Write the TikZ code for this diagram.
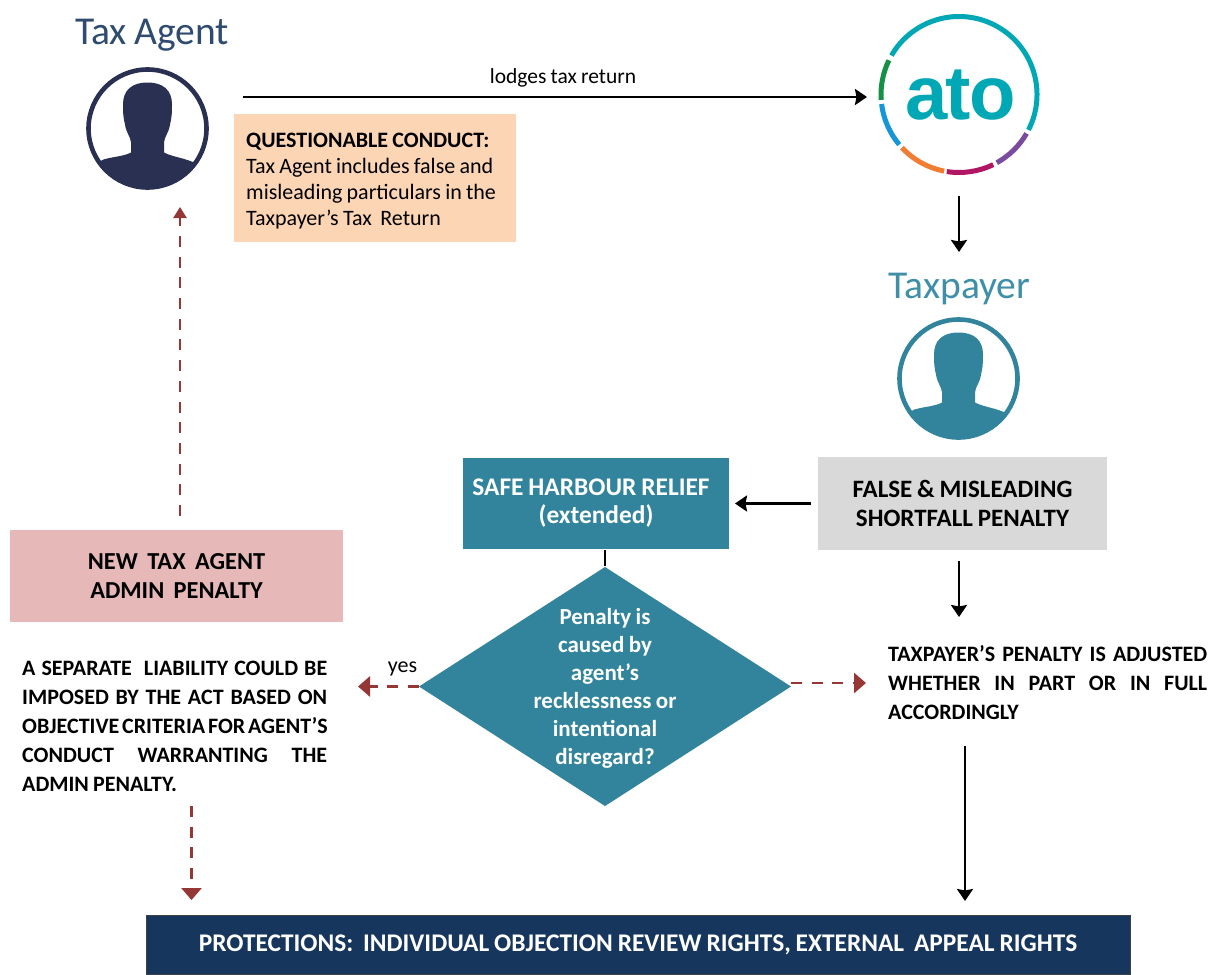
\documentclass[tikz,border=0pt]{standalone}
\usepackage{fontspec}
\setmainfont{Carlito}[WordSpace=0.85]
\newfontfamily\atofont{Liberation Sans}
\usetikzlibrary{arrows.meta,shapes.geometric,positioning}
\definecolor{teal}{HTML}{31849B}
\definecolor{navy}{HTML}{17365D}
\definecolor{agentblue}{HTML}{2A3052}
\definecolor{titleblue}{HTML}{2F4B70}
\definecolor{titleteal}{HTML}{3F8FA8}
\definecolor{peach}{HTML}{FCD5B5}
\definecolor{pinkbox}{HTML}{E6B9B8}
\definecolor{greybox}{HTML}{D9D9D9}
\definecolor{dred}{HTML}{953735}
\definecolor{atoteal}{HTML}{00A7B5}
\definecolor{atopurple}{HTML}{784BA0}
\definecolor{atomagenta}{HTML}{B01664}
\definecolor{atoorange}{HTML}{F07D32}
\definecolor{atoblue}{HTML}{1496D7}
\definecolor{atogreen}{HTML}{149146}
\tikzset{
  x=1pt,y=-1pt,
  arr/.style={draw=black,line width=2.6pt,-{Stealth[length=12pt,width=16pt,inset=1.5pt]}},
  stub/.style={draw=black,line width=2.6pt},
  darr/.style={draw=dred,line width=2.8pt,dash pattern=on 11pt off 9.7pt,-{Stealth[length=12pt,width=20pt,inset=0pt]}},
  darrup/.style={draw=dred,line width=2.4pt,dash pattern=on 11pt off 9.7pt,-{Stealth[length=11pt,width=13pt,inset=0pt]}},
  flat/.style={inner sep=0pt,outer sep=0pt,anchor=north west,align=center},
  title/.style={font=\fontsize{39.5}{42}\selectfont,inner sep=0pt},
  ring/.style={circle,inner sep=0pt,minimum size=118pt,line width=4.6pt,draw=#1},
  txt/.style={inner sep=0pt,anchor=north west,align=left,font=\bfseries\fontsize{22}{29}\selectfont},
  arcseg/.style={line width=5pt,draw=#1},
}
\newcommand{\personicon}[3]{%
  \node[ring=#3] (#1) at (#2) {};
  \begin{scope}[shift={(#2)}]
    \clip (0,0) circle[radius=59];
    \fill[#3] (0,-46) .. controls (16,-46) and (24.5,-38) .. (24.5,-24)
      .. controls (24.5,-14) and (24,-10) .. (22.5,-4)
      .. controls (21.5,4) and (17,8) .. (16.5,14)
      -- (16.5,24) .. controls (24,28) and (34,29) .. (44,33) -- (62,40) -- (62,62) -- (-62,62) -- (-62,40) -- (-44,31)
      .. controls (-34,28) and (-24,28) .. (-16.5,24)
      -- (-16.5,14) .. controls (-17,8) and (-21.5,4) .. (-22.5,-4)
      .. controls (-24,-10) and (-24.5,-14) .. (-24.5,-24)
      .. controls (-24.5,-38) and (-16,-46) .. (0,-46) -- cycle;
  \end{scope}}
\newcommand{\jline}[2]{\makebox[#1][s]{#2}}
\begin{document}
\begin{tikzpicture}
\useasboundingbox (0,0) rectangle (1212,974);
\fill[white] (0,0) rectangle (1212,974);

% titles
\node[title,text=titleblue] (agenttitle) at (152,35) {Tax Agent};
\node[title,text=titleteal] (payertitle) at (959.5,289) {Taxpayer};

% icons
\personicon{agent}{147.5,128.5}{agentblue}
\personicon{payer}{958.5,378.5}{teal}

% ATO logo
\node[inner sep=0pt,anchor=base,text=atoteal] (atotext) at (960.5,119)
  {\atofont\bfseries\fontsize{76}{76}\selectfont a\kern-2pt t\kern-2pt o};
\begin{scope}[shift={(959,94.5)}]
\draw[arcseg=atoteal] (-150:78) arc[start angle=-150,end angle=27,radius=78];
\draw[arcseg=atopurple] (30:78) arc[start angle=30,end angle=61,radius=78];
\draw[arcseg=atomagenta] (64:78) arc[start angle=64,end angle=99,radius=78];
\draw[arcseg=atoorange] (101:78) arc[start angle=101,end angle=137,radius=78];
\draw[arcseg=atoblue] (140:78) arc[start angle=140,end angle=173,radius=78];
\draw[arcseg=atogreen] (176:78) arc[start angle=176,end angle=206,radius=78];
\end{scope}

% boxes
\node[flat,fill=peach,minimum width=282pt,minimum height=128pt] (conductbox) at (234,114) {};
\node[inner sep=0pt,anchor=north west,align=left,font=\fontsize{22}{25.8}\selectfont] (conduct) at (246,133)
  {\textbf{QUESTIONABLE CONDUCT:}\\Tax Agent includes false and\\misleading particulars in the\\Taxpayer’s Tax\ \ Return};

\node[flat,fill=teal,text=white,minimum width=266pt,minimum height=91pt,font=\bfseries\fontsize{25.4}{28.5}\selectfont] (harbour) at (463,458)
  {SAFE HARBOUR RELIEF\hspace*{10pt}\\(extended)\rule[-5pt]{0pt}{5pt}};
\node[flat,fill=greybox,minimum width=289pt,minimum height=93pt,font=\bfseries\fontsize{25}{29}\selectfont] (grey) at (818,457)
  {FALSE \& MISLEADING\\SHORTFALL PENALTY};
\node[flat,fill=pinkbox,minimum width=333pt,minimum height=92pt,font=\bfseries\fontsize{24.4}{29}\selectfont] (pink) at (10,530)
  {NEW\ \ TAX\ \ AGENT\\ADMIN\ \ PENALTY};

\node[diamond,fill=teal,inner sep=0pt,outer sep=0pt,aspect=1.556,minimum width=372pt,minimum height=239pt] (decide) at (605,686.5) {};
\node[inner sep=0pt,text=white,align=center,font=\bfseries\fontsize{23}{28}\selectfont] (decidetext) at (605,688)
  {Penalty is\\caused by\\agent’s\\recklessness or\\intentional\\disregard?};

\node[flat,fill=navy,draw=black!75,line width=1pt,text=white,minimum width=984pt,minimum height=59pt,font=\bfseries\fontsize{25.4}{28}\selectfont] (protect) at (146,915)
  {PROTECTIONS:\ \ INDIVIDUAL OBJECTION REVIEW RIGHTS, EXTERNAL\ \ APPEAL RIGHTS};

% body text
\node[txt] (separate) at (22,661)
  {\jline{305pt}{A SEPARATE\ \ LIABILITY COULD BE}\\
   \jline{305pt}{IMPOSED BY THE ACT BASED ON}\\
   \jline{305pt}{OBJECTIVE CRITERIA FOR AGENT’S}\\
   \jline{305pt}{CONDUCT WARRANTING THE}\\
   ADMIN PENALTY.};
\node[txt] (adjusted) at (888,645)
  {\jline{319pt}{TAXPAYER’S PENALTY IS ADJUSTED}\\
   \jline{319pt}{WHETHER IN PART OR IN FULL}\\
   ACCORDINGLY};

% labels
\node[inner sep=0pt,font=\fontsize{21.5}{24}\selectfont] (lodges) at (563,78) {lodges tax return};
\node[inner sep=0pt,font=\fontsize{22}{24}\selectfont] (yes) at (402.5,668.5) {yes};

% free ends
\coordinate (a1) at (243,97);
\coordinate (a2) at (867,97);
\coordinate (b1) at (959,196);
\coordinate (b2) at (959,252);
\coordinate (c1) at (180,516);
\coordinate (c2) at (180,207);
\coordinate (d1) at (959,561);
\coordinate (d2) at (959,617);
\coordinate (e1) at (358,686.5);
\coordinate (f1) at (791,683);
\coordinate (f2) at (866,683);
\coordinate (g1) at (965,746);
\coordinate (g2) at (965,901);
\coordinate (h1) at (191.5,806);
\coordinate (h2) at (191.5,900);

% connectors
\draw[arr] (a1) -- (a2);
\draw[arr] (b1) -- (b2);
\draw[darrup] (c1) -- (c2);
\draw[arr,shorten <=7pt,shorten >=6pt] (grey.west) -- (harbour.east);
\draw[arr] (d1) -- (d2);
\draw[stub,shorten <=1pt,shorten >=1pt] (decide.north |- harbour.south) -- (decide.north);
\draw[darr] (decide.west) -- (e1);
\draw[darr] (f1) -- (f2);
\draw[arr] (g1) -- (g2);
\draw[darr] (h1) -- (h2);
\end{tikzpicture}
\end{document}
